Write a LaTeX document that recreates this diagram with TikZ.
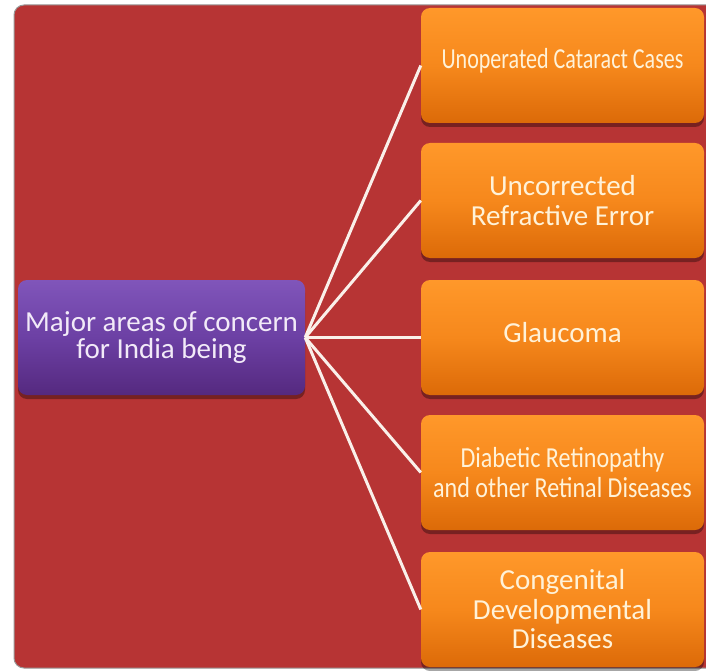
\documentclass[tikz,border=0pt]{standalone}
\usepackage{fontspec}
\setmainfont{Carlito}
\usetikzlibrary{shadows}
\definecolor{bgred}{HTML}{B73434}
\definecolor{orTop}{HTML}{FF982A}
\definecolor{orMid}{HTML}{F6881C}
\definecolor{orBot}{HTML}{DC6A08}
\definecolor{puTop}{HTML}{8055BA}
\definecolor{puMid}{HTML}{6C40A4}
\definecolor{puBot}{HTML}{55297F}
\definecolor{cream}{HTML}{FFF2D8}
\definecolor{lav}{HTML}{F2EAF8}
\definecolor{linec}{HTML}{FAF0EA}
\tikzset{
  obox/.style={rounded corners=9pt, top color=orTop, bottom color=orBot, middle color=orMid,
    minimum width=283pt, minimum height=115pt, inner sep=0pt, align=center, text=cream,
    font=\fontsize{29}{29.5}\selectfont,
    drop shadow={shadow xshift=0pt, shadow yshift=-4pt, fill=black, opacity=0.35}},
  pbox/.style={rounded corners=9pt, top color=puTop, bottom color=puBot, middle color=puMid,
    minimum width=287pt, minimum height=115pt, inner sep=0pt, align=center, text=lav,
    font=\fontsize{29}{27}\selectfont,
    drop shadow={shadow xshift=0pt, shadow yshift=-4pt, fill=black, opacity=0.35}},
  conn/.style={draw=linec, line width=3pt}
}
\newcommand{\cond}[2]{\scalebox{#1}[1]{#2}}
\begin{document}
\begin{tikzpicture}[x=1pt,y=1pt]
\useasboundingbox (0,0) rectangle (706,-671);
\fill[white] (0,0) rectangle (706,-671);
\draw[fill=bgred, draw=gray!80, line width=1pt, rounded corners=10pt] (14,-5) rectangle (720,-668);
\node[pbox] (m) at (161.5,-337.5) {Major areas of concern\\for India being};
\node[obox] (b1) at (562.5,-65.5) {\raisebox{15pt}{\cond{0.76}{Unoperated Cataract Cases}}};
\node[obox] (b2) at (562.5,-200.5) {Uncorrected\\Refractive Error};
\node[obox] (b3) at (562.5,-337.5) {\raisebox{11pt}{Glaucoma}};
\node[obox] (b4) at (562.5,-472.5) {\cond{0.83}{Diabetic Retinopathy}\\\cond{0.83}{and other Retinal Diseases}};
\node[obox] (b5) at (562.5,-609.5) {Congenital\\Developmental\\Diseases};
\foreach \b in {b1,b2,b3,b4,b5}{\draw[conn] (m.east) -- (\b.west);}
\end{tikzpicture}
\end{document}
